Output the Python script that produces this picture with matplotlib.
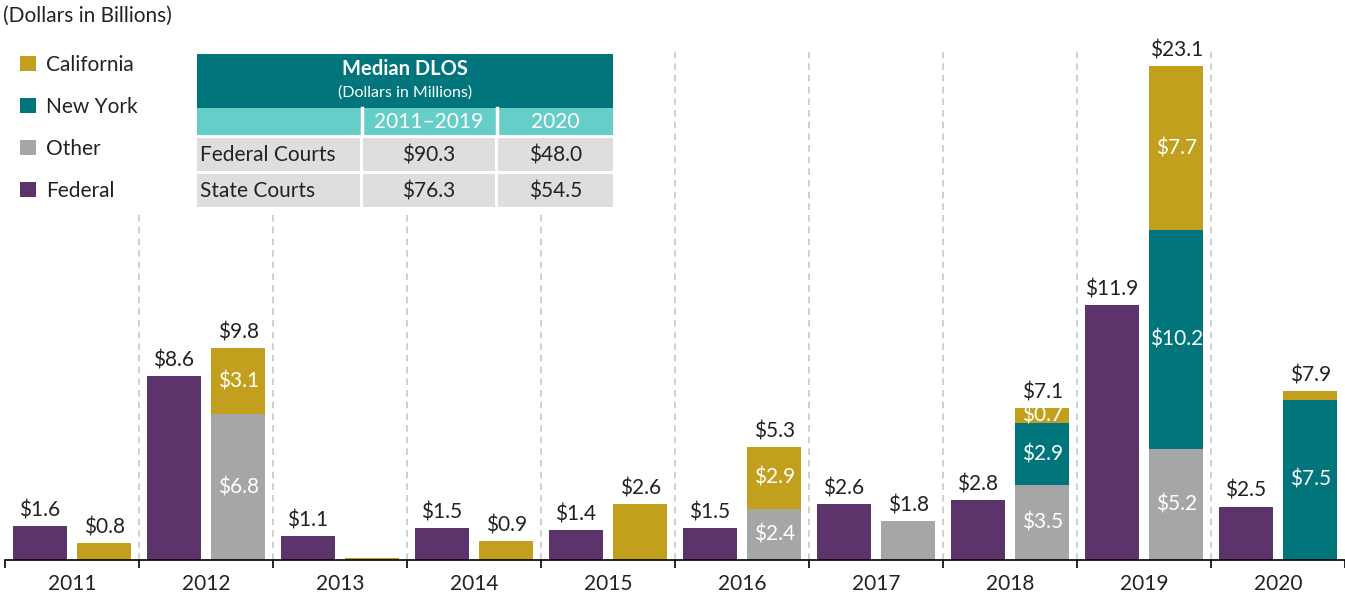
import matplotlib.pyplot as plt
import numpy as np
from matplotlib.patches import Rectangle

plt.rcParams['font.family'] = ['Lato', 'DejaVu Sans']

## Données

years = ['2011', '2012', '2013', '2014', '2015', '2016', '2017', '2018', '2019', '2020']
federal = [1.6, 8.6, 1.1, 1.5, 1.4, 1.5, 2.6, 2.8, 11.9, 2.5]
other = [0, 6.8, 0, 0, 0, 2.4, 1.8, 3.5, 5.2, 0]
new_york = [0, 0, 0, 0, 0, 0, 0, 2.9, 10.2, 7.5]
california = [0.8, 3.1, 0.1, 0.9, 2.6, 2.9, 0, 0.7, 7.7, 0.4]
state_total = ['$0.8', '$9.8', '', '$0.9', '$2.6', '$5.3', '$1.8', '$7.1', '$23.1', '$7.9']

table_cols = ['2011\u20132019', '2020']
table_rows = ['Federal Courts', 'State Courts']
table_vals = [['$90.3', '$48.0'], ['$76.3', '$54.5']]

c_fed = '#5C346B'
c_ca = '#C2A01E'
c_ny = '#00767C'
c_other = '#A6A6A6'
txt = '#222222'
fs = 15

W, H = 1345, 596
fig = plt.figure(figsize=(W / 100, H / 100), dpi=100)
ax = fig.add_axes([5 / W, 36 / H, 1340 / W, 560 / H])

x = np.arange(len(years))
bw = 0.40
xf = x - 0.24
xs = x + 0.24

b_fed = ax.bar(xf, federal, bw, color=c_fed, label='Federal', zorder=2)
bottom = np.zeros(len(years))
segs = []
for vals, col, lab in [(other, c_other, 'Other'), (new_york, c_ny, 'New York'), (california, c_ca, 'California')]:
    vals = np.array(vals)
    b = ax.bar(xs, vals, bw, bottom=bottom, color=col, label=lab, zorder=2)
    segs.append((vals, bottom.copy(), b))
    bottom = bottom + vals

ymax = 560 / 21.4
ax.set_ylim(0, ymax)
ax.set_xlim(-0.5, len(years) - 0.5)

# étiquettes des barres fédérales
for xi, v in zip(xf, federal):
    ax.annotate(f'${v:.1f}', (xi, v), xytext=(0, 4), textcoords='offset points',
                ha='center', va='bottom', fontsize=fs, color=txt)

# étiquettes des barres des états
nseg = np.sum([np.array(s[0]) > 0.2 for s in segs], axis=0)
for i in range(len(years)):
    if state_total[i]:
        ax.annotate(state_total[i], (xs[i], bottom[i]), xytext=(0, 4), textcoords='offset points',
                    ha='center', va='bottom', fontsize=fs, color=txt)
    if nseg[i] > 1:
        for vals, bot, b in segs:
            if vals[i] >= 0.6:
                ax.text(xs[i], bot[i] + vals[i] / 2, f'${vals[i]:.1f}', ha='center', va='center',
                        fontsize=fs, color='white', zorder=3)

# séparateurs pointillés
for k, xb in enumerate(x[:-1] + 0.5):
    top = (560 - 215) / 21.4 if k < 4 else (560 - 50) / 21.4
    ax.plot([xb, xb], [0, top], color='#C8C8C8', lw=1.2, ls=(0, (4, 3)), zorder=1)

for s in ['top', 'right', 'left']:
    ax.spines[s].set_visible(False)
ax.spines['bottom'].set_color('black')
ax.spines['bottom'].set_linewidth(1.2)
ax.set_yticks([])
ax.set_xticks(x)
ax.set_xticklabels(years, fontsize=fs, color=txt)
ax.tick_params(axis='x', which='major', length=0, pad=10)
ax.set_xticks(np.arange(-0.5, len(years), 1.0), minor=True)
ax.tick_params(axis='x', which='minor', length=6, width=1.2, color='black')

# légende
leg = ax.legend(handles=[segs[2][2], segs[1][2], segs[0][2], b_fed], loc='upper left',
                bbox_to_anchor=(20 / W, 1 - 55 / H), bbox_transform=fig.transFigure,
                frameon=False, fontsize=fs, handlelength=0.75, handleheight=0.75,
                handletextpad=0.5, labelspacing=1.05, borderaxespad=0, borderpad=0)
for t in leg.get_texts():
    t.set_color(txt)

fig.text(3 / W, 1 - 16 / H, '(Dollars in Billions)', fontsize=fs, color=txt, va='center', ha='left')

# tableau Median DLOS
ov = fig.add_axes([0, 0, 1, 1])
ov.set_xlim(0, W)
ov.set_ylim(H, 0)
ov.axis('off')
ov.patch.set_alpha(0)

ov.add_patch(Rectangle((197, 54), 416, 54, color='#00767C', lw=0))
ov.text(405, 69, 'Median DLOS', ha='center', va='center', fontsize=14.5, fontweight='bold', color='white')
ov.text(405, 93, '(Dollars in Millions)', ha='center', va='center', fontsize=11.5, color='white')
cols_x = [(197, 163), (363, 132), (498, 115)]
ov.add_patch(Rectangle((197, 108), 416, 27, color='#66CEC8', lw=0))
ov.plot([361.5, 361.5], [108, 135], color='white', lw=2.5)
ov.plot([496.5, 496.5], [108, 135], color='white', lw=2.5)
for (cx, cw), lab in zip(cols_x[1:], table_cols):
    ov.text(cx + cw / 2, 122, lab, ha='center', va='center', fontsize=fs, color='white')
for r, (rlab, rvals) in enumerate(zip(table_rows, table_vals)):
    y0 = 138 + r * 36
    for (cx, cw) in cols_x:
        ov.add_patch(Rectangle((cx, y0), cw, 33, color='#DEDEDE', lw=0))
    ov.text(200, y0 + 17, rlab, ha='left', va='center', fontsize=fs, color=txt)
    for (cx, cw), v in zip(cols_x[1:], rvals):
        ov.text(cx + cw / 2, y0 + 17, v, ha='center', va='center', fontsize=fs, color=txt)

fig.savefig('out.png', dpi=100)
